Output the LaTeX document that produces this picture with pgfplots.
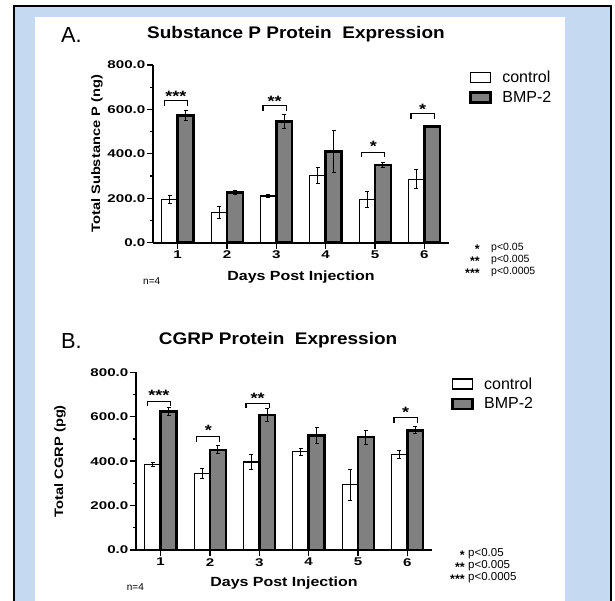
\documentclass[border=0pt]{standalone}
\usepackage{fontspec}
\setmainfont{Liberation Sans}
\newfontfamily\widefont[FakeStretch=1.2]{Liberation Sans}
\newfontfamily\titlefont[FakeStretch=1.13]{Liberation Sans}
\newfontfamily\tickfont[FakeStretch=1.35]{Liberation Sans}
\usepackage{pgfplots}
\usepackage{pgfplotstable}
\pgfplotsset{compat=1.18}
\definecolor{bgblue}{RGB}{197,217,241}
\definecolor{bargray}{RGB}{128,128,128}

% Substance P (ng): mean and error per day
\pgfplotstableread{
day ctrl ctrlerr bmp bmperr
1 195 18 572 22
2 135 28 227 10
3 210 5 545 33
4 303 37 411 94
5 193 36 349 11
6 286 42 523 3
}\subp

% CGRP (pg)
\pgfplotstableread{
day ctrl ctrlerr bmp bmperr
1 384 8 623 17
2 343 23 451 18
3 396 32 607 28
4 442 16 515 36
5 294 70 508 32
6 430 17 539 15
}\cgrp

\pgfplotsset{
  prism/.style={
    scale only axis, width=296pt, height=177.7pt,
    xmin=0.5, xmax=6.5, ymin=0, ymax=800, clip=false,
    axis x line*=bottom, axis y line*=left,
    axis line style={line width=1.8pt, -},
    tick align=outside,
    major tick length=6.5pt, minor tick length=3.5pt,
    tick style={line width=1.3pt, black},
    xtick={1,2,3,4,5,6}, xticklabels={1,2,3,4,5,6},
    ytick={0,200,400,600,800},
    yticklabels={0.0,200.0,400.0,600.0,800.0},
    minor ytick={100,300,500,700},
    ticklabel style={font=\tickfont\bfseries\fontsize{11.2}{11}\selectfont},
    yticklabel style={inner sep=1pt},
    xticklabel style={inner sep=1.5pt},
    ylabel style={font=\widefont\bfseries\fontsize{12.2}{13}\selectfont, anchor=center},
    xlabel style={font=\widefont\bfseries\fontsize{13.3}{14}\selectfont, anchor=center},
    title style={font=\titlefont\bfseries\fontsize{16.8}{17}\selectfont, anchor=base},
    legend cell align=left,
    legend style={draw=none, fill=none, anchor=north west,
      font=\fontsize{16}{16}\selectfont, inner sep=0pt, row sep=4pt,
      nodes={inner sep=1.5pt},
      /tikz/every odd column/.append style={column sep=9pt}},
  },
  swatch/.style={legend image code/.code={
    \filldraw[##1] (0pt,-5pt) rectangle (20pt,5pt);}},
  ctrlbar/.style={ybar, bar width=0.32, bar shift=0, fill=white,
    draw=black, line width=1.2pt, swatch},
  bmpbar/.style={ybar, bar width=0.32, bar shift=0, fill=bargray,
    draw=black, line width=2.5pt, swatch},
  errs/.style={error bars/.cd, y dir=both, y explicit,
    error bar style={line width=1pt, black},
    error mark options={rotate=90, mark size=2pt, line width=1pt, black}},
  brk/.style={black, line width=1.1pt, mark=none, forget plot},
}
\newcommand{\starfont}{\widefont\bfseries\fontsize{15}{15}\selectfont}

\begin{document}
\begin{tikzpicture}[x=1pt, y=1pt]
\useasboundingbox (0,0) rectangle (615,601);
\fill[white] (0,0) rectangle (615,601);
\fill[bgblue] (14,0) rectangle (611,595);
\draw[line width=2pt] (14,-3) -- (14,595) -- (611,595) -- (611,-3);
\fill[white] (35,0) rectangle (565,584);

% ---------- A: Substance P ----------
\begin{axis}[prism,
  at={(153pt,358.3pt)}, anchor=south west,
  title={Substance P Protein\ \ Expression},
  title style={at={(axis description cs:0.483,1.115)}},
  xlabel={Days Post Injection},
  xlabel style={at={(axis description cs:0.5,-0.191)}},
  ylabel={Total Substance P (ng)},
  ylabel style={at={(axis description cs:-0.189,0.5)}},
  legend style={at={(rel axis cs:1.068,0.975)}},
]
\addplot[ctrlbar, errs] table[x expr=\thisrow{day}-0.16, y=ctrl, y error=ctrlerr] {\subp};
\addlegendentry{control}
\addplot[bmpbar, errs] table[x expr=\thisrow{day}+0.16, y=bmp, y error=bmperr] {\subp};
\addlegendentry{BMP-2}
\addplot[brk] coordinates {(0.73,617) (0.73,639) (1.2,639) (1.2,617)};
\addplot[brk] coordinates {(2.73,594) (2.73,616) (3.2,616) (3.2,594)};
\addplot[brk] coordinates {(4.73,385) (4.73,407) (5.2,407) (5.2,385)};
\addplot[brk] coordinates {(5.73,558) (5.73,580) (6.2,580) (6.2,558)};
\node[font=\starfont, anchor=base] at (axis cs:0.965,637.5) {***};
\node[font=\starfont, anchor=base] at (axis cs:2.965,613.5) {**};
\node[font=\starfont, anchor=base] at (axis cs:4.965,410.5) {*};
\node[font=\starfont, anchor=base] at (axis cs:5.965,578.5) {*};
\end{axis}

% ---------- B: CGRP ----------
\begin{axis}[prism,
  at={(136pt,51pt)}, anchor=south west,
  title={CGRP Protein\ \ Expression},
  title style={at={(axis description cs:0.48,1.12)}},
  xlabel={Days Post Injection},
  xlabel style={at={(axis description cs:0.5,-0.186)}},
  ylabel={Total CGRP (pg)},
  ylabel style={at={(axis description cs:-0.257,0.5)}},
  legend style={at={(rel axis cs:1.064,0.98)}},
]
\addplot[ctrlbar, errs] table[x expr=\thisrow{day}-0.16, y=ctrl, y error=ctrlerr] {\cgrp};
\addlegendentry{control}
\addplot[bmpbar, errs] table[x expr=\thisrow{day}+0.16, y=bmp, y error=bmperr] {\cgrp};
\addlegendentry{BMP-2}
\addplot[brk] coordinates {(0.73,648) (0.73,670) (1.2,670) (1.2,648)};
\addplot[brk] coordinates {(1.73,487) (1.73,509) (2.2,509) (2.2,487)};
\addplot[brk] coordinates {(2.73,638) (2.73,660) (3.2,660) (3.2,638)};
\addplot[brk] coordinates {(5.73,573) (5.73,595) (6.2,595) (6.2,573)};
\node[font=\starfont, anchor=base] at (axis cs:0.965,673.5) {***};
\node[font=\starfont, anchor=base] at (axis cs:1.965,515.5) {*};
\node[font=\starfont, anchor=base] at (axis cs:2.965,658.5) {**};
\node[font=\starfont, anchor=base] at (axis cs:5.965,597.5) {*};
\end{axis}

% panel letters, n and significance keys
\node[anchor=base west, font=\fontsize{21.8}{22}\selectfont, inner sep=0pt] at (61,558.7) {A.};
\node[anchor=base west, font=\fontsize{21.8}{22}\selectfont, inner sep=0pt] at (61,252.7) {B.};
\node[anchor=base west, font=\fontsize{10}{10}\selectfont, inner sep=0pt] at (143,316.5) {n=4};
\node[anchor=base west, font=\fontsize{10}{10}\selectfont, inner sep=0pt] at (126.7,10.5) {n=4};
\begin{scope}[every node/.style={inner sep=0pt, font=\fontsize{10.5}{10.5}\selectfont}]
\node[anchor=base east, font=\bfseries\fontsize{12.5}{12}\selectfont] at (480,347) {*};
\node[anchor=base east, font=\bfseries\fontsize{12.5}{12}\selectfont] at (480,335) {**};
\node[anchor=base east, font=\bfseries\fontsize{12.5}{12}\selectfont] at (480,323.3) {***};
\node[anchor=base west] at (491,350) {p<0.05};
\node[anchor=base west] at (491,338) {p<0.005};
\node[anchor=base west] at (491,326.3) {p<0.0005};
\end{scope}
\begin{scope}[every node/.style={inner sep=0pt, font=\fontsize{11.5}{11.5}\selectfont}]
\node[anchor=base east, font=\bfseries\fontsize{12.5}{12}\selectfont] at (465,41) {*};
\node[anchor=base east, font=\bfseries\fontsize{12.5}{12}\selectfont] at (465,29) {**};
\node[anchor=base east, font=\bfseries\fontsize{12.5}{12}\selectfont] at (465,17.5) {***};
\node[anchor=base west] at (468,44) {p<0.05};
\node[anchor=base west] at (468,32) {p<0.005};
\node[anchor=base west] at (468,20.5) {p<0.0005};
\end{scope}
\end{tikzpicture}
\end{document}
